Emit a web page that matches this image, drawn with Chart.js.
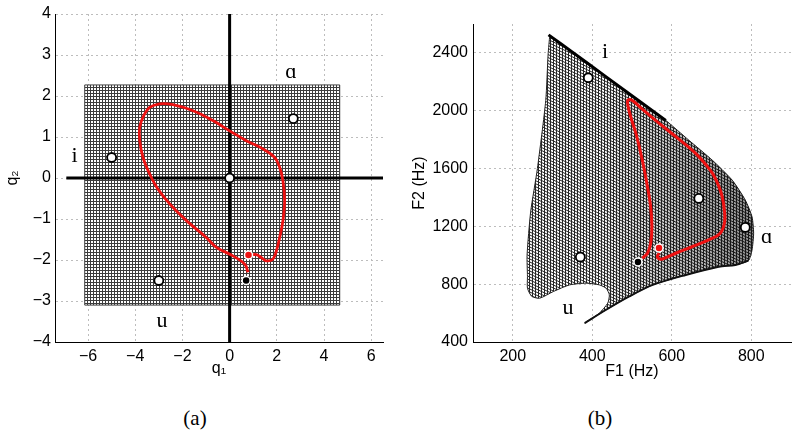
<!DOCTYPE html>
<html>
<head>
<meta charset="utf-8">
<script src="https://cdn.jsdelivr.net/npm/chart.js@4.4.0/dist/chart.umd.min.js"></script>
<style>
  body { margin: 0; background: #fff; width: 800px; height: 440px; position: relative; overflow: hidden; }
  canvas { position: absolute; top: 0; }
  #chartA { left: 0; }
  #chartB { left: 400px; }
  .cap { position: absolute; top: 406px; width: 100px; text-align: center; font-family: "Liberation Serif", "DejaVu Serif", serif; font-size: 21px; line-height: 24px; }
</style>
</head>
<body>
<canvas id="chartA" width="400" height="390"></canvas>
<canvas id="chartB" width="400" height="390"></canvas>
<div class="cap" style="left:145px">(a)</div>
<div class="cap" style="left:550px">(b)</div>
<script>
// ---- (a) control space q1/q2 ----
const q1Ticks = [-6, -4, -2, 0, 2, 4, 6];
const q2Ticks = [-4, -3, -2, -1, 0, 1, 2, 3, 4];

const meshQ1 = [-6.14, 4.66, 4.66, -6.14, -6.14];
const meshQ2 = [2.27, 2.27, -3.10, -3.10, 2.27];

const vowelQ1 = [-5, 2.7, -3, 0];
const vowelQ2 = [0.5, 1.45, -2.5, 0];
const startQ = [0.7, -2.5];
const endQ = [0.8, -1.88];

const pathQ1 = [0.78, 0.64, 0.14, -0.56, -0.99, -1.83, -2.54, -3.04, -3.39, -3.67, -3.81, -3.81, -3.64, -3.39, -2.97, -2.40, -1.55, -0.71, 0, 0.71, 1.41, 1.91, 2.12, 2.26, 2.33, 2.26, 2.12, 1.98, 1.83, 1.55, 1.34, 1.13, 0.95];
const pathQ2 = [-2.30, -2.10, -1.90, -1.69, -1.45, -1.04, -0.63, -0.27, 0.10, 0.50, 0.91, 1.24, 1.52, 1.72, 1.81, 1.79, 1.64, 1.40, 1.15, 0.91, 0.71, 0.50, 0.26, -0.07, -0.55, -1.04, -1.45, -1.78, -1.98, -2.02, -1.94, -1.87, -1.87];

const labelsA = ['i', 'ɑ', 'u'];
const labelQ1 = [-6.57, 2.6, -2.87];
const labelQ2 = [0.52, 2.58, -3.5];

// ---- (b) formant space F1/F2 ----
const f1Ticks = [200, 400, 600, 800];
const f2Ticks = [400, 800, 1200, 1600, 2000, 2400];

const meshF1 = [293, 352, 435, 518, 585, 643, 702, 752, 785, 802, 806, 802, 793, 760, 718, 635, 552, 493, 435, 381, 418, 439, 443, 435, 418, 385, 343, 302, 268, 248, 237, 237, 236, 245, 262, 283, 289, 293];
const meshF2 = [2519, 2401, 2234, 2067, 1933, 1796, 1658, 1520, 1382, 1266, 1152, 1037, 963, 933, 921, 864, 795, 715, 623, 531, 600, 669, 726, 772, 795, 807, 795, 749, 703, 715, 772, 852, 1000, 1300, 1600, 2071, 2393, 2519];

const topEdgeF1 = [290, 352, 435, 518, 585];
const topEdgeF2 = [2525, 2401, 2234, 2067, 1933];
const lowEdgeF1 = [793, 760, 718, 635, 552, 493, 435, 381];
const lowEdgeF2 = [963, 933, 921, 864, 795, 715, 623, 531];

const vowelF1 = [390, 668, 785, 370];
const vowelF2 = [2228, 1393, 1193, 988];
const startF = [515, 954];
const endF = [568, 1050];

const pathF1 = [526, 539, 547, 550, 547, 539, 526, 510, 497, 489, 491, 501, 520, 560, 601, 635, 662, 685, 704, 718, 727, 732, 733, 722, 693, 651, 610, 585, 573, 564, 568];
const pathF2 = [979, 1014, 1083, 1197, 1335, 1473, 1657, 1841, 1956, 2048, 2076, 2071, 2025, 1932, 1841, 1765, 1700, 1630, 1560, 1480, 1404, 1320, 1230, 1152, 1106, 1059, 1014, 983, 972, 990, 1014];

const labelsB = ['i', 'ɑ', 'u'];
const labelF1 = [432, 839, 339];
const labelF2 = [2404, 1128, 634];

Chart.defaults.font.family = '"Liberation Sans", Arial, sans-serif';
Chart.defaults.font.size = 16;
Chart.defaults.color = '#000';

const pts = (xs, ys) => xs.map((x, i) => ({ x: x, y: ys[i] }));
const minus = v => (v < 0 ? '\u2212' + Math.abs(v) : '' + v);

function meshPattern(step, color, skew) {
    const c = document.createElement('canvas');
    c.width = step;
    c.height = step;
    const g = c.getContext('2d');
    g.fillStyle = '#fff';
    g.fillRect(0, 0, step, step);
    g.fillStyle = color;
    g.fillRect(0, 0, step, 1);
    g.fillRect(0, 0, 1, step);
    const p = g.createPattern(c, 'repeat');
    if (skew) p.setTransform(new DOMMatrix().skewYSelf(skew));
    return p;
}

const vowelLabels = {
    id: 'vowelLabels',
    afterDatasetsDraw(chart, args, opts) {
        const { ctx, scales } = chart;
        ctx.save();
        ctx.font = '22px "Liberation Serif", "DejaVu Serif", serif';
        ctx.fillStyle = '#000';
        ctx.textAlign = 'center';
        ctx.textBaseline = 'middle';
        opts.text.forEach((t, i) => {
            ctx.fillText(t, scales.x.getPixelForValue(opts.xs[i]), scales.y.getPixelForValue(opts.ys[i]));
        });
        ctx.restore();
    }
};

function axis(min, max, tickVals, title, size, tickPad, titlePad) {
    return {
        type: 'linear',
        min: min,
        max: max,
        afterBuildTicks: s => { s.ticks = tickVals.map(v => ({ value: v })); },
        afterFit: s => {
            if (s.isHorizontal()) s.height = size; else s.width = size;
        },
        ticks: { callback: v => minus(v), padding: tickPad, maxRotation: 0, autoSkip: false },
        grid: { color: '#bdbdbd', drawTicks: false, lineWidth: 1 },
        border: { color: '#000', width: 1, dash: [2, 3] },
        title: { display: true, text: title, padding: titlePad }
    };
}

function markers(xs, ys, fill, edge, r, w, order) {
    return {
        data: pts(xs, ys), showLine: false, order: order,
        pointRadius: r, pointBorderWidth: w,
        pointBackgroundColor: fill, pointBorderColor: edge
    };
}

function line(xs, ys, color, width, order, extra) {
    return Object.assign({
        data: pts(xs, ys), showLine: true, order: order,
        borderColor: color, borderWidth: width, pointRadius: 0, tension: 0.4, fill: false
    }, extra || {});
}

const common = {
    responsive: false,
    animation: false,
    events: [],
    plugins: { legend: { display: false }, tooltip: { enabled: false } }
};

new Chart(document.getElementById('chartA').getContext('2d'), {
    type: 'scatter',
    data: {
        datasets: [
            line(meshQ1, meshQ2, '#444', 1, 9, { tension: 0, fill: 'shape', backgroundColor: meshPattern(3, '#3c3c3c') }),
            line([-6.92, 6.5], [0, 0], '#000', 3, 6, { tension: 0 }),
            line([0, 0], [-4, 4], '#000', 3, 6, { tension: 0 }),
            line(pathQ1, pathQ2, '#ee1111', 2.8, 4),
            markers(vowelQ1, vowelQ2, '#fff', '#000', 4.5, 1.8, 2),
            markers([startQ[0]], [startQ[1]], '#000', '#fff', 4, 1.5, 1),
            markers([endQ[0]], [endQ[1]], '#ee1111', '#fff', 4, 1.5, 1)
        ]
    },
    options: Object.assign({}, common, {
        layout: { padding: { top: 14, right: 17, left: 0, bottom: 0 } },
        scales: {
            x: axis(-7.4, 6.5, q1Ticks, 'q\u2081', 48, 5, { top: 0, bottom: 12 }),
            y: axis(-4, 4, q2Ticks, 'q\u2082', 55, 4, { top: 3, bottom: 0 })
        },
        plugins: Object.assign({}, common.plugins, {
            vowelLabels: { text: labelsA, xs: labelQ1, ys: labelQ2 }
        })
    }),
    plugins: [vowelLabels]
});

new Chart(document.getElementById('chartB').getContext('2d'), {
    type: 'scatter',
    data: {
        datasets: [
            line(meshF1, meshF2, '#222', 1, 9, { tension: 0.2, fill: 'shape', backgroundColor: meshPattern(3, '#262626', 25) }),
            line(meshF1, meshF2, 'rgba(0,0,0,0)', 0, 8, {
                tension: 0.2, fill: 'shape',
                backgroundColor: ctx => {
                    const chart = ctx.chart;
                    if (!chart.chartArea) return 'rgba(0,0,0,0)';
                    const sx = chart.scales.x;
                    const g = chart.ctx.createLinearGradient(sx.getPixelForValue(420), 0, sx.getPixelForValue(810), 0);
                    g.addColorStop(0, 'rgba(0,0,0,0)');
                    g.addColorStop(1, 'rgba(0,0,0,0.45)');
                    return g;
                }
            }),
            line(topEdgeF1, topEdgeF2, '#000', 3, 7, { tension: 0.2 }),
            line(lowEdgeF1, lowEdgeF2, '#111', 2, 7, { tension: 0.3 }),
            line(pathF1, pathF2, '#ee1111', 3, 4),
            markers(vowelF1, vowelF2, '#fff', '#000', 4.5, 1.8, 2),
            markers([startF[0]], [startF[1]], '#000', '#fff', 4, 1.5, 1),
            markers([endF[0]], [endF[1]], '#ee1111', '#fff', 4, 1.5, 1)
        ]
    },
    options: Object.assign({}, common, {
        layout: { padding: { top: 24, right: 9, left: 0, bottom: 0 } },
        scales: {
            x: axis(100, 900, f1Ticks, 'F1 (Hz)', 48, 5, { top: 0, bottom: 9 }),
            y: axis(400, 2600, f2Ticks, 'F2 (Hz)', 73, 5, { top: 10, bottom: 0 })
        },
        plugins: Object.assign({}, common.plugins, {
            vowelLabels: { text: labelsB, xs: labelF1, ys: labelF2 }
        })
    }),
    plugins: [vowelLabels]
});
</script>
</body>
</html>
